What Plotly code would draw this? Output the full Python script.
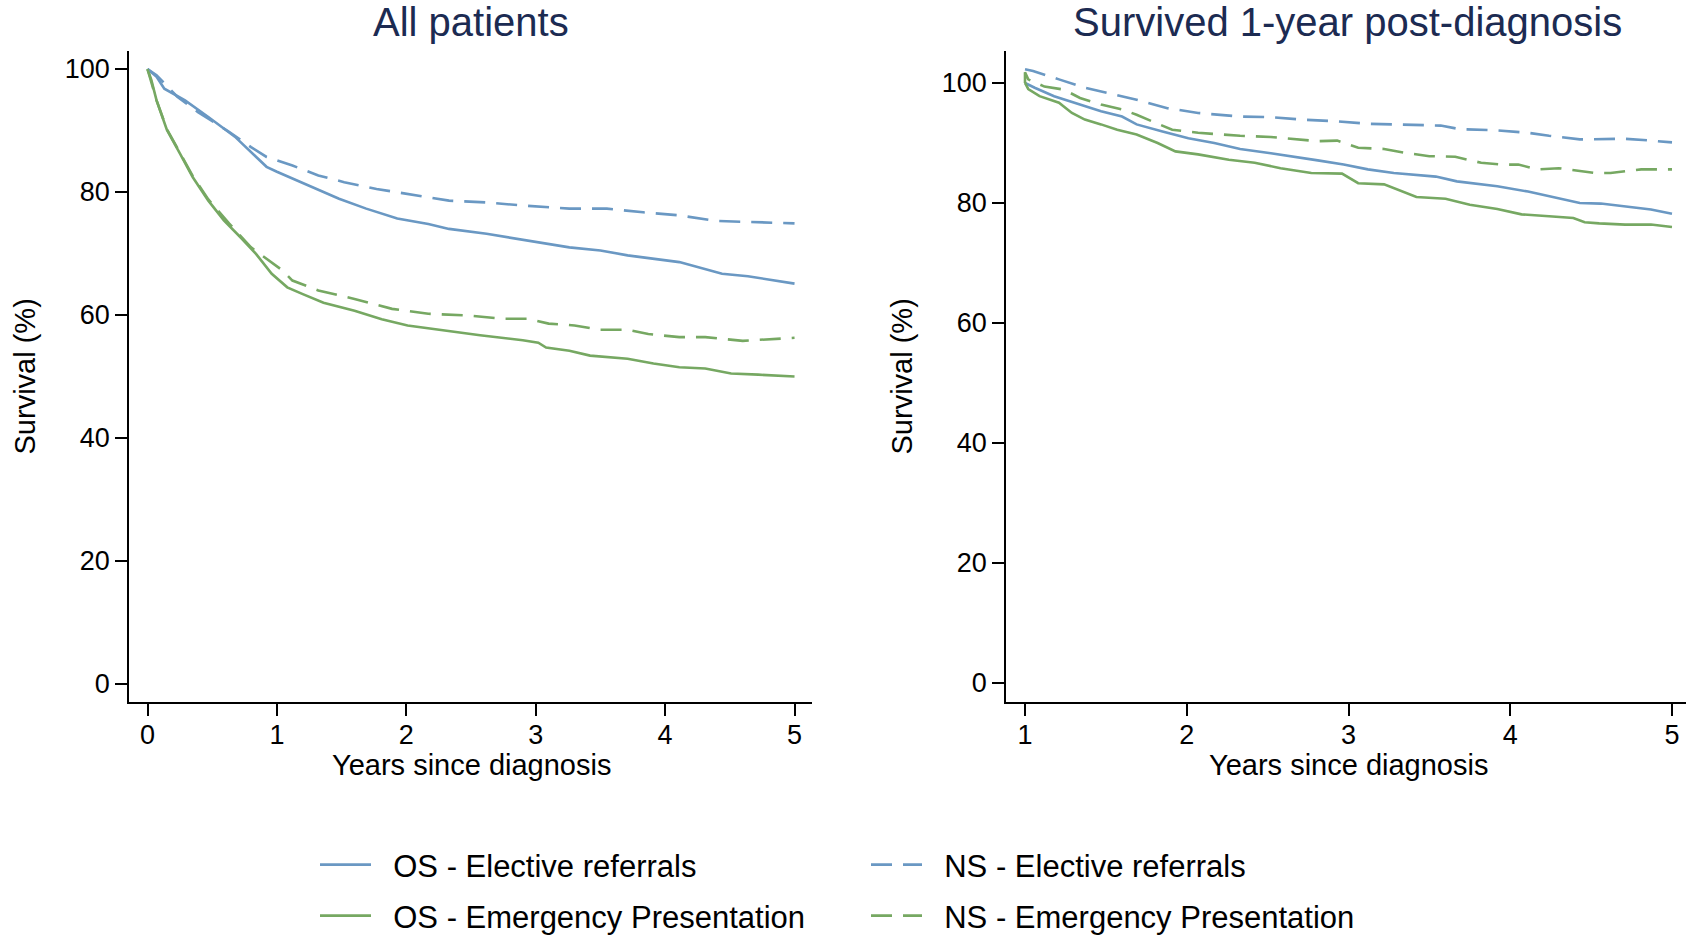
import plotly.graph_objects as go

# ---------------- Data ----------------
# Left panel: All patients (years since diagnosis)
all_os_el_x = [0, 0.07, 0.13, 0.29, 0.47, 0.675, 0.84, 0.92, 1.0, 1.28, 1.48, 1.69, 1.93,
               2.17, 2.33, 2.62, 2.9, 3.26, 3.5, 3.71, 4.11, 4.44, 4.64, 5.0]
all_os_el_y = [100, 98.75, 96.8, 94.9, 92.2, 89.0, 85.7, 84.1, 83.3, 80.8, 78.9, 77.3, 75.7,
               74.8, 74.0, 73.2, 72.2, 71.0, 70.5, 69.7, 68.6, 66.7, 66.3, 65.1]

all_ns_el_x = [0, 0.07, 0.23, 0.39, 0.63, 0.8, 0.92, 1.12, 1.32, 1.52, 1.77, 2.05, 2.33,
               2.62, 2.9, 3.26, 3.55, 3.83, 4.11, 4.39, 4.6, 5.0]
all_ns_el_y = [100, 99.0, 95.5, 93.0, 89.8, 87.3, 85.7, 84.3, 82.7, 81.6, 80.5, 79.5, 78.6,
               78.3, 77.8, 77.3, 77.3, 76.7, 76.2, 75.3, 75.2, 74.9]

all_os_em_x = [0, 0.03, 0.07, 0.15, 0.25, 0.35, 0.47, 0.59, 0.72, 0.84, 0.96, 1.08, 1.2,
               1.36, 1.6, 1.81, 2.01, 2.29, 2.57, 2.9, 3.02, 3.08, 3.26, 3.42, 3.71, 3.91,
               4.11, 4.31, 4.51, 4.72, 5.0]
all_os_em_y = [100, 98.2, 94.9, 90.1, 86.3, 82.4, 78.6, 75.4, 72.6, 69.9, 66.7, 64.5, 63.4,
               62.0, 60.7, 59.3, 58.3, 57.5, 56.7, 55.9, 55.5, 54.7, 54.2, 53.4, 52.9, 52.1,
               51.5, 51.3, 50.5, 50.3, 50.0]

all_ns_em_x = [0, 0.07, 0.15, 0.25, 0.35, 0.47, 0.63, 0.8, 0.92, 1.04, 1.12, 1.32, 1.6,
               1.89, 2.17, 2.49, 2.74, 2.94, 3.1, 3.3, 3.5, 3.71, 3.87, 4.11, 4.31, 4.6, 5.0]
all_ns_em_y = [100, 94.9, 90.2, 86.4, 82.6, 78.8, 74.9, 71.0, 69.1, 67.3, 65.6, 64.0, 62.6,
               61.0, 60.2, 59.9, 59.4, 59.4, 58.6, 58.3, 57.6, 57.6, 56.9, 56.4, 56.4, 55.8, 56.3]

# Right panel: Survived 1-year post-diagnosis
s1_os_el_x = [1.0, 1.06, 1.18, 1.31, 1.47, 1.6, 1.69, 1.85, 2.01, 2.17, 2.33, 2.52, 2.65,
              2.81, 2.97, 3.12, 3.28, 3.54, 3.67, 3.92, 4.11, 4.24, 4.43, 4.56, 4.71, 4.87, 5.0]
s1_os_el_y = [100, 99.2, 97.8, 96.7, 95.3, 94.4, 93.1, 91.9, 90.8, 90.0, 89.0, 88.3, 87.8,
              87.1, 86.4, 85.6, 85.0, 84.4, 83.6, 82.8, 81.9, 81.1, 80.0, 79.9, 79.4, 78.9, 78.2]

s1_ns_el_x = [1.0, 1.05, 1.21, 1.37, 1.53, 1.69, 1.88, 2.07, 2.33, 2.52, 2.71, 2.93, 3.12,
              3.34, 3.57, 3.69, 3.92, 4.11, 4.24, 4.43, 4.56, 4.71, 4.87, 5.0]
s1_ns_el_y = [102.3, 102.0, 100.6, 99.2, 98.2, 97.2, 95.8, 95.0, 94.4, 94.3, 93.9, 93.6, 93.2,
              93.0, 92.9, 92.3, 92.1, 91.7, 91.2, 90.6, 90.6, 90.7, 90.4, 90.1]

s1_os_em_x = [1.0, 1.02, 1.09, 1.15, 1.21, 1.29, 1.37, 1.47, 1.57, 1.69, 1.82, 1.93, 2.07,
              2.26, 2.42, 2.58, 2.77, 2.96, 3.06, 3.22, 3.34, 3.42, 3.6, 3.75, 3.92, 4.07,
              4.24, 4.39, 4.46, 4.55, 4.71, 4.87, 5.0]
s1_os_em_y = [100, 99.0, 97.8, 97.2, 96.7, 95.0, 93.9, 93.1, 92.2, 91.4, 90.0, 88.6, 88.1,
              87.2, 86.7, 85.8, 85.0, 84.9, 83.3, 83.1, 81.9, 81.0, 80.7, 79.7, 79.0, 78.1,
              77.8, 77.5, 76.8, 76.6, 76.4, 76.4, 76.0]

s1_ns_em_x = [1.0, 1.0, 1.02, 1.12, 1.24, 1.34, 1.47, 1.6, 1.69, 1.82, 1.91, 2.07, 2.33, 2.52,
              2.65, 2.81, 2.93, 3.06, 3.22, 3.34, 3.5, 3.66, 3.82, 3.95, 4.05, 4.17, 4.3,
              4.43, 4.52, 4.62, 4.81, 5.0]
s1_ns_em_y = [100, 101.8, 100.6, 99.4, 98.9, 97.5, 96.4, 95.6, 94.7, 93.3, 92.2, 91.7, 91.2, 91.0,
              90.7, 90.3, 90.4, 89.2, 89.0, 88.4, 87.8, 87.7, 86.7, 86.4, 86.4, 85.6, 85.8,
              85.4, 85.0, 85.0, 85.6, 85.6]

x_ticks_all = [0, 1, 2, 3, 4, 5]
x_ticks_s1 = [1, 2, 3, 4, 5]
y_ticks = [0, 20, 40, 60, 80, 100]

panel_titles = ["All patients", "Survived 1-year post-diagnosis"]
x_title = "Years since diagnosis"
y_title = "Survival (%)"
names = ["OS - Elective referrals", "OS - Emergency Presentation",
         "NS - Elective referrals", "NS - Emergency Presentation"]

# ---------------- Styling ----------------
W, H = 1686, 937
BLUE = "#6a98c3"
GREEN = "#76a862"
TITLE_C = "#1c2b52"
FONT = "Liberation Sans, Arial, sans-serif"
DASH = "21px,11px"
LW = 2.6
GAP = "\u00a0\u00a0"  # spacing between legend line sample and label

fig = go.Figure()

def add(x, y, color, dash, name, xa, ya, legend, show):
    fig.add_trace(go.Scatter(
        x=x, y=y, mode="lines", name=GAP + name,
        line=dict(color=color, width=LW, dash=dash),
        xaxis=xa, yaxis=ya, legend=legend, showlegend=show, legendgroup=name,
    ))

add(all_os_el_x, all_os_el_y, BLUE, "solid", names[0], "x", "y", "legend", True)
add(all_os_em_x, all_os_em_y, GREEN, "solid", names[1], "x", "y", "legend3", True)
add(all_ns_el_x, all_ns_el_y, BLUE, DASH, names[2], "x", "y", "legend2", True)
add(all_ns_em_x, all_ns_em_y, GREEN, DASH, names[3], "x", "y", "legend4", True)

add(s1_os_el_x, s1_os_el_y, BLUE, "solid", names[0], "x2", "y2", "legend", False)
add(s1_os_em_x, s1_os_em_y, GREEN, "solid", names[1], "x2", "y2", "legend3", False)
add(s1_ns_el_x, s1_ns_el_y, BLUE, DASH, names[2], "x2", "y2", "legend2", False)
add(s1_ns_em_x, s1_ns_em_y, GREEN, DASH, names[3], "x2", "y2", "legend4", False)

def px_x(p):
    return p / W

def px_y(p):
    return 1 - p / H

ydom = [px_y(702), px_y(51)]
ax_common = dict(
    showline=True, linecolor="black", linewidth=1.8,
    ticks="outside", ticklen=12, tickwidth=1.8, tickcolor="black",
    showgrid=False, zeroline=False,
    tickfont=dict(family=FONT, size=27, color="black"),
    fixedrange=True,
)

leg_common = dict(xanchor="left", yanchor="middle", orientation="v",
                  font=dict(family=FONT, size=31, color="black"),
                  bgcolor="rgba(0,0,0,0)", itemwidth=51)

fig.update_layout(
    width=W, height=H, autosize=False,
    margin=dict(l=0, r=0, t=0, b=0, pad=0, autoexpand=False),
    paper_bgcolor="white", plot_bgcolor="white",
    font=dict(family=FONT, color="black"),
    xaxis=dict(domain=[px_x(129), px_x(812)], range=[-0.143, 5.135],
               tickvals=x_ticks_all, anchor="y", ticklabelstandoff=-4, **ax_common),
    yaxis=dict(domain=ydom, range=[-2.93, 102.93], tickvals=y_ticks, anchor="x",
               ticklabelstandoff=0, **ax_common),
    xaxis2=dict(domain=[px_x(1006), 1.0], range=[0.8825, 5.0866],
                tickvals=x_ticks_s1, anchor="y2", ticklabelstandoff=-4, **ax_common),
    yaxis2=dict(domain=ydom, range=[-3.17, 105.33], tickvals=y_ticks, anchor="x2",
                ticklabelstandoff=0, **ax_common),
    legend=dict(x=px_x(315), y=px_y(865), **leg_common),
    legend2=dict(x=px_x(866), y=px_y(865), **leg_common),
    legend3=dict(x=px_x(315), y=px_y(916), **leg_common),
    legend4=dict(x=px_x(866), y=px_y(916), **leg_common),
)

annos = []
for txt, cx in zip(panel_titles, [470.5, 1347]):
    annos.append(dict(text=txt, x=px_x(cx), y=px_y(22), xref="paper", yref="paper",
                      xanchor="center", yanchor="middle", showarrow=False,
                      font=dict(family=FONT, size=40, color=TITLE_C)))
for cx in [471, 1348]:
    annos.append(dict(text=x_title, x=px_x(cx), y=px_y(765), xref="paper", yref="paper",
                      xanchor="center", yanchor="middle", showarrow=False,
                      font=dict(family=FONT, size=29, color="black")))
for cx in [24, 901]:
    annos.append(dict(text=y_title, x=px_x(cx), y=px_y(376.5), xref="paper", yref="paper",
                      xanchor="center", yanchor="middle", showarrow=False, textangle=-90,
                      font=dict(family=FONT, size=29, color="black")))
fig.update_layout(annotations=annos)

fig.write_html("out.html")
